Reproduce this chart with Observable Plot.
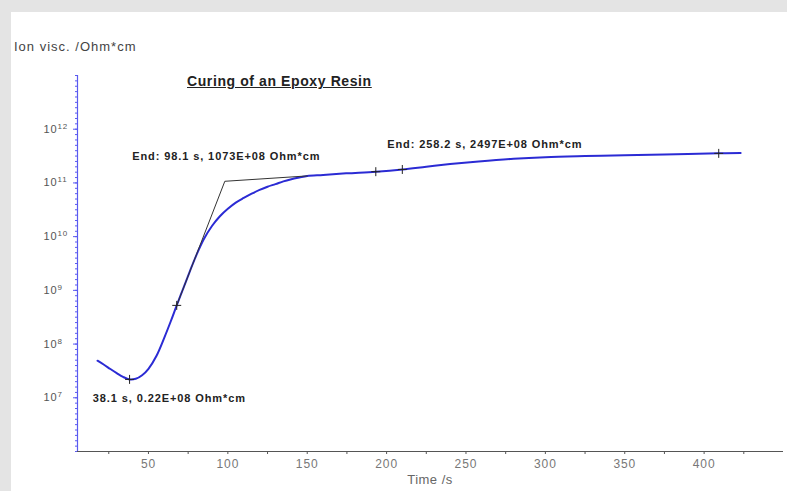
<!DOCTYPE html>
<html><head><meta charset="utf-8">
<script src="https://cdn.jsdelivr.net/npm/d3@7"></script>
<script src="https://cdn.jsdelivr.net/npm/@observablehq/plot@0.6"></script>
<style>
html,body{margin:0;padding:0;background:#e4e4e4;width:787px;height:491px;overflow:hidden;font-family:"Liberation Sans",Arial,sans-serif;}
#panel{position:absolute;left:11px;top:12px;width:776px;height:479px;background:#fff;}
#chart{position:absolute;left:0;top:0;}
#ylab{position:absolute;left:3px;top:28px;font-size:13px;line-height:13px;color:#444;letter-spacing:1px;white-space:nowrap;}
#title{position:absolute;left:176px;top:62px;font-size:14px;line-height:14px;font-weight:bold;color:#222;text-decoration:underline;letter-spacing:0.6px;white-space:nowrap;}
#xlab{position:absolute;left:419px;top:461px;transform:translateX(-50%);font-size:13px;line-height:13px;color:#666;letter-spacing:0.5px;white-space:nowrap;}
#chart svg text{letter-spacing:0.9px;}
</style></head>
<body>
<div id="panel"><div id="chart"></div>
<div id="ylab">Ion visc. /Ohm*cm</div>
<div id="title">Curing of an Epoxy Resin</div>
<div id="xlab">Time /s</div>
</div>
<script>
// Measured ion viscosity curve (time in s, ion viscosity in Ohm*cm)
const time = [17.9, 22, 26, 30, 34, 38.1, 42, 46, 50, 55, 60, 64, 67.8, 72, 76, 80, 85, 90, 95, 100, 105, 110, 115, 120, 125, 130, 135, 140, 145, 150, 160, 175, 193.2, 209.9, 225, 240, 258, 280, 300, 325, 350, 375, 409.2, 423];
const viscosity = [4.9e7, 4.12e7, 3.43e7, 2.88e7, 2.45e7, 2.2e7, 2.26e7, 2.63e7, 3.47e7, 6.0e7, 1.32e8, 2.63e8, 5.25e8, 1.1e9, 2.24e9, 4.4e9, 9.1e9, 1.58e10, 2.4e10, 3.3e10, 4.3e10, 5.25e10, 6.3e10, 7.4e10, 8.5e10, 9.5e10, 1.07e11, 1.17e11, 1.26e11, 1.35e11, 1.41e11, 1.51e11, 1.62e11, 1.78e11, 2.0e11, 2.24e11, 2.51e11, 2.82e11, 3.02e11, 3.16e11, 3.27e11, 3.39e11, 3.55e11, 3.59e11];

// Tangent construction lines
const tangentTime = [67.8, 98.1, 150];
const tangentVisc = [5.25e8, 1.073e11, 1.35e11];

// "+" markers on the curve
const markTime = [38.1, 67.8, 193.2, 209.9, 409.2];
const markVisc = [2.2e7, 5.25e8, 1.62e11, 1.78e11, 3.55e11];

// Annotations
const annoTime = [98.1, 258.2, 38.1];
const annoVisc = [1.073e11, 2.497e11, 2.2e7];
const annoText = ["End: 98.1 s, 1073E+08 Ohm*cm", "End: 258.2 s, 2497E+08 Ohm*cm", "38.1 s, 0.22E+08 Ohm*cm"];

// Axes
const xMajorTicks = [50, 100, 150, 200, 250, 300, 350, 400];
const xMinorTicks = [25, 75, 125, 175, 225, 275, 325, 375, 425];
const yExponents = [7, 8, 9, 10, 11, 12];
const xDomain = [5.3, 450];
const yDomain = [1e6, 1e13];

const curve = time.map((t, i) => ({t, v: viscosity[i]}));
const tangent = tangentTime.map((t, i) => ({t, v: tangentVisc[i]}));
const marks = markTime.map((t, i) => ({t, v: markVisc[i]}));
const anno = annoTime.map((t, i) => ({t, v: annoVisc[i], label: annoText[i]}));
const yMinor = d3.range(60, 131).map(i => Math.pow(10, i / 10));

const blue = "#2b2bd4";
const axisBlue = "#5a5af0";

const chart = Plot.plot({
  width: 776,
  height: 479,
  marginLeft: 66,
  marginRight: 4,
  marginTop: 63,
  marginBottom: 40,
  style: {fontFamily: "'Liberation Sans', Arial, sans-serif", background: "transparent"},
  x: {domain: xDomain},
  y: {type: "log", domain: yDomain},
  marks: [
    Plot.ruleY([yDomain[0]], {stroke: "#555", strokeWidth: 1}),
    Plot.axisX({ticks: xMajorTicks, tickSize: 3, tickPadding: 5, stroke: "#555", fill: "#777", fontSize: 12, label: null}),
    Plot.axisX({ticks: xMinorTicks, tickSize: 3, tickFormat: () => "", stroke: "#555", label: null}),
    Plot.axisY({ticks: yMinor, tickSize: 2, tickFormat: () => "", stroke: axisBlue, label: null}),
    Plot.axisY({ticks: yExponents.map(e => Math.pow(10, e)), tickSize: 4, tickFormat: () => "", stroke: axisBlue, label: null}),
    Plot.ruleX([xDomain[0]], {stroke: axisBlue, strokeWidth: 1.2}),
    Plot.text(yExponents, {y: e => Math.pow(10, e), text: () => "10", frameAnchor: "left", textAnchor: "start", dx: -34, fontSize: 11, fill: "#555"}),
    Plot.text(yExponents, {y: e => Math.pow(10, e), text: e => String(e), frameAnchor: "left", textAnchor: "start", dx: -20, dy: -3, fontSize: 8, fill: "#555"}),
    Plot.line(curve, {x: "t", y: "v", stroke: blue, strokeWidth: 2, curve: "catmull-rom"}),
    Plot.line(tangent, {x: "t", y: "v", stroke: "#333", strokeWidth: 1}),
    Plot.dot(marks, {x: "t", y: "v", symbol: "plus", r: 3, stroke: "#222", strokeWidth: 1}),
    Plot.text([anno[0]], {x: "t", y: "v", text: "label", textAnchor: "start", dx: -92.6, dy: -25.3, fontSize: 11, fontWeight: "bold", fill: "#222"}),
    Plot.text([anno[1]], {x: "t", y: "v", text: "label", textAnchor: "start", dx: -91.8, dy: -17, fontSize: 11, fontWeight: "bold", fill: "#222"}),
    Plot.text([anno[2]], {x: "t", y: "v", text: "label", textAnchor: "start", dx: -36.8, dy: 18.8, fontSize: 11, fontWeight: "bold", fill: "#222"})
  ]
});
document.getElementById("chart").appendChild(chart);
</script>
</body></html>
